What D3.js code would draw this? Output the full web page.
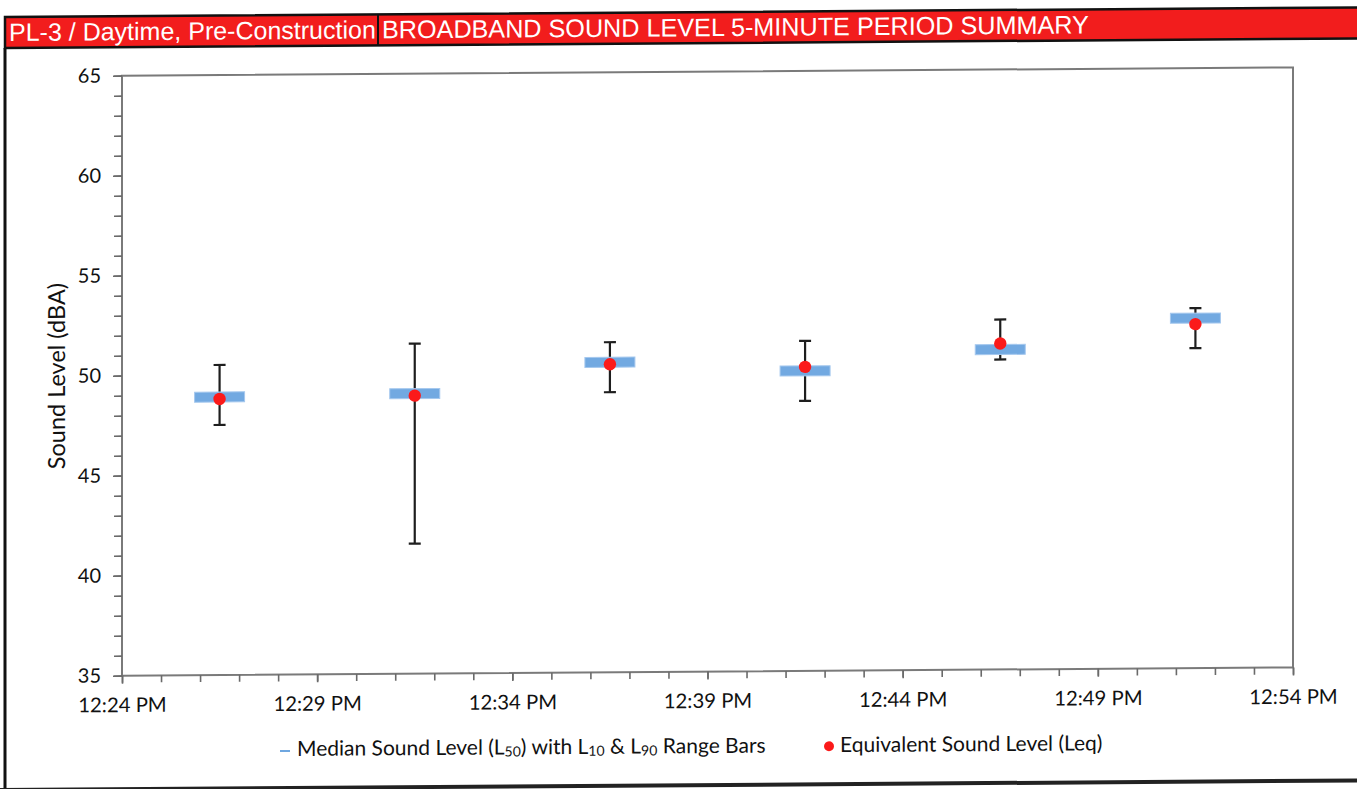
<!DOCTYPE html>
<html>
<head>
<meta charset="utf-8">
<script src="https://cdn.jsdelivr.net/npm/d3@7"></script>
<style>
  html, body { margin: 0; padding: 0; background: #fff; }
  svg { display: block; }
</style>
</head>
<body>
<svg id="chart" width="1357" height="789"></svg>
<script>
// 5-minute period midpoints (clock time) and the broadband levels, dBA
const periods = ["12:26:30", "12:31:30", "12:36:30", "12:41:30", "12:46:30", "12:51:30"];
const l50 = [48.9, 49.0, 50.5, 50.0, 51.0, 52.5];   // median level
const l10 = [50.5, 51.5, 51.5, 51.5, 52.5, 53.0];   // upper range bar
const l90 = [47.5, 41.5, 49.0, 48.5, 50.5, 51.0];   // lower range bar
const leq = [48.8, 48.9, 50.4, 50.2, 51.3, 52.2];   // equivalent level

const xTicks = ["12:24", "12:29", "12:34", "12:39", "12:44", "12:49", "12:54"];
const yTicks = [35, 40, 45, 50, 55, 60, 65];

const headerLeft = "PL-3 / Daytime, Pre-Construction";
const headerRight = "BROADBAND SOUND LEVEL 5-MINUTE PERIOD SUMMARY";
const yTitle = "Sound Level (dBA)";

const parseT = d3.timeParse("%H:%M:%S");
const parseTick = d3.timeParse("%H:%M");
const fmtTick = d3.timeFormat("%-I:%M %p");

const svg = d3.select("#chart");
const W = 1357, H = 789;
const plot = { left: 122, right: 1293, top: 76.5, bottom: 676.5 };

// the sheet sits at a slight tilt
const page = svg.append("g").attr("transform", "matrix(1,-0.007,0,1,0,0)");

const x = d3.scaleTime()
  .domain([parseTick(xTicks[0]), parseTick(xTicks[xTicks.length - 1])])
  .range([plot.left, plot.right]);
const y = d3.scaleLinear()
  .domain([yTicks[0], yTicks[yTicks.length - 1]])
  .range([plot.bottom, plot.top]);

const uiFont = "Lato, 'Open Sans', sans-serif";

// ---- header band ----
page.append("rect")
  .attr("x", 5).attr("y", 17).attr("width", W + 20).attr("height", 31)
  .attr("fill", "#f21d1d").attr("stroke", "#111").attr("stroke-width", 2.5);
page.append("line")
  .attr("x1", 378).attr("x2", 378).attr("y1", 17).attr("y2", 48)
  .attr("stroke", "#111").attr("stroke-width", 2);
page.append("text")
  .attr("x", 9).attr("y", 41)
  .attr("font-family", "'Liberation Sans', Arial, sans-serif")
  .attr("font-size", 25).attr("fill", "#fff")
  .text(headerLeft);
page.append("text")
  .attr("x", 382).attr("y", 41)
  .attr("font-family", "'Liberation Sans', Arial, sans-serif")
  .attr("font-size", 25.2).attr("fill", "#fff")
  .text(headerRight);

// ---- outer frame ----
page.append("line")
  .attr("x1", 5).attr("x2", 5).attr("y1", 48).attr("y2", H + 10)
  .attr("stroke", "#111").attr("stroke-width", 3);
page.append("line")
  .attr("x1", 0).attr("x2", W + 20).attr("y1", 790).attr("y2", 790)
  .attr("stroke", "#222").attr("stroke-width", 4);

// ---- plot frame ----
page.append("rect")
  .attr("x", plot.left).attr("y", plot.top)
  .attr("width", plot.right - plot.left).attr("height", plot.bottom - plot.top)
  .attr("fill", "none").attr("stroke", "#7a7a7a").attr("stroke-width", 2);

// ---- y axis: minor ticks every 1 dB, labels every 5 ----
const yMinor = d3.range(yTicks[0], yTicks[yTicks.length - 1] + 1, 1);
const yAxisMinor = page.append("g")
  .attr("transform", `translate(${plot.left},0)`)
  .call(d3.axisLeft(y).tickValues(yMinor).tickSize(8).tickFormat(""));
const yAxis = page.append("g")
  .attr("transform", `translate(${plot.left},0)`)
  .call(d3.axisLeft(y).tickValues(yTicks).tickSize(9).tickPadding(12).tickFormat(d3.format("d")));
[yAxisMinor, yAxis].forEach(g => {
  g.select(".domain").remove();
  g.selectAll(".tick line").attr("stroke", "#6a6a6a").attr("stroke-width", 1.6);
});
yAxis.selectAll(".tick text")
  .attr("font-family", uiFont).attr("font-size", 20).attr("fill", "#111");

// ---- x axis: minor ticks every minute, labels every 5 minutes ----
const xMinor = d3.timeMinute.range(x.domain()[0], d3.timeMinute.offset(x.domain()[1], 1));
const xAxisMinor = page.append("g")
  .attr("transform", `translate(0,${plot.bottom})`)
  .call(d3.axisBottom(x).tickValues(xMinor).tickSize(7).tickFormat(""));
const xAxis = page.append("g")
  .attr("transform", `translate(0,${plot.bottom})`)
  .call(d3.axisBottom(x).tickValues(xTicks.map(parseTick)).tickSize(8).tickPadding(14).tickFormat(fmtTick));
[xAxisMinor, xAxis].forEach(g => {
  g.select(".domain").remove();
  g.selectAll(".tick line").attr("stroke", "#6a6a6a").attr("stroke-width", 1.6);
});
xAxis.selectAll(".tick text")
  .attr("font-family", uiFont).attr("font-size", 20.3).attr("fill", "#111");

// ---- y title ----
page.append("text")
  .attr("transform", `translate(65,${(plot.top + plot.bottom) / 2}) rotate(-90)`)
  .attr("text-anchor", "middle")
  .attr("font-family", uiFont).attr("font-size", 23.5).attr("fill", "#111")
  .text(yTitle);

// ---- series ----
const rows = periods.map((p, i) => ({ t: parseT(p), l50: l50[i], l10: l10[i], l90: l90[i], leq: leq[i] }));
const marks = page.append("g");

// L10–L90 range bars
const bars = marks.selectAll(".rng").data(rows).join("g").attr("class", "rng")
  .attr("stroke", "#1e1e1e").attr("stroke-width", 2.2);
bars.append("line")
  .attr("x1", d => x(d.t)).attr("x2", d => x(d.t))
  .attr("y1", d => y(d.l10)).attr("y2", d => y(d.l90));
bars.append("line")
  .attr("x1", d => x(d.t) - 6).attr("x2", d => x(d.t) + 6)
  .attr("y1", d => y(d.l10)).attr("y2", d => y(d.l10));
bars.append("line")
  .attr("x1", d => x(d.t) - 6).attr("x2", d => x(d.t) + 6)
  .attr("y1", d => y(d.l90)).attr("y2", d => y(d.l90));

// L50 median dash
marks.selectAll(".med").data(rows).join("rect").attr("class", "med")
  .attr("x", d => x(d.t) - 25).attr("width", 50)
  .attr("y", d => y(d.l50) - 5).attr("height", 10)
  .attr("fill", "#72a9e1").attr("stroke", "#a5c8ee").attr("stroke-width", 1);

// Leq dot
marks.selectAll(".leq").data(rows).join("circle").attr("class", "leq")
  .attr("cx", d => x(d.t)).attr("cy", d => y(d.leq)).attr("r", 6.2)
  .attr("fill", "#fb1a1a");

// ---- legend ----
const lg = page.append("g").attr("font-family", uiFont).attr("font-size", 21).attr("fill", "#111");
lg.append("line")
  .attr("x1", 280).attr("x2", 290).attr("y1", 753).attr("y2", 753)
  .attr("stroke", "#6fa7e0").attr("stroke-width", 2);
const t1 = lg.append("text").attr("x", 297).attr("y", 758);
t1.append("tspan").text("Median Sound Level (L");
t1.append("tspan").attr("font-size", 14).attr("dy", 2).text("50");
t1.append("tspan").attr("dy", -2).text(") with L");
t1.append("tspan").attr("font-size", 14).attr("dy", 2).text("10");
t1.append("tspan").attr("dy", -2).text(" & L");
t1.append("tspan").attr("font-size", 14).attr("dy", 2).text("90");
t1.append("tspan").attr("dy", -2).text(" Range Bars");
lg.append("circle").attr("cx", 829).attr("cy", 752).attr("r", 5).attr("fill", "#fb1a1a");
lg.append("text").attr("x", 840).attr("y", 758).text("Equivalent Sound Level (Leq)");
</script>
</body>
</html>
